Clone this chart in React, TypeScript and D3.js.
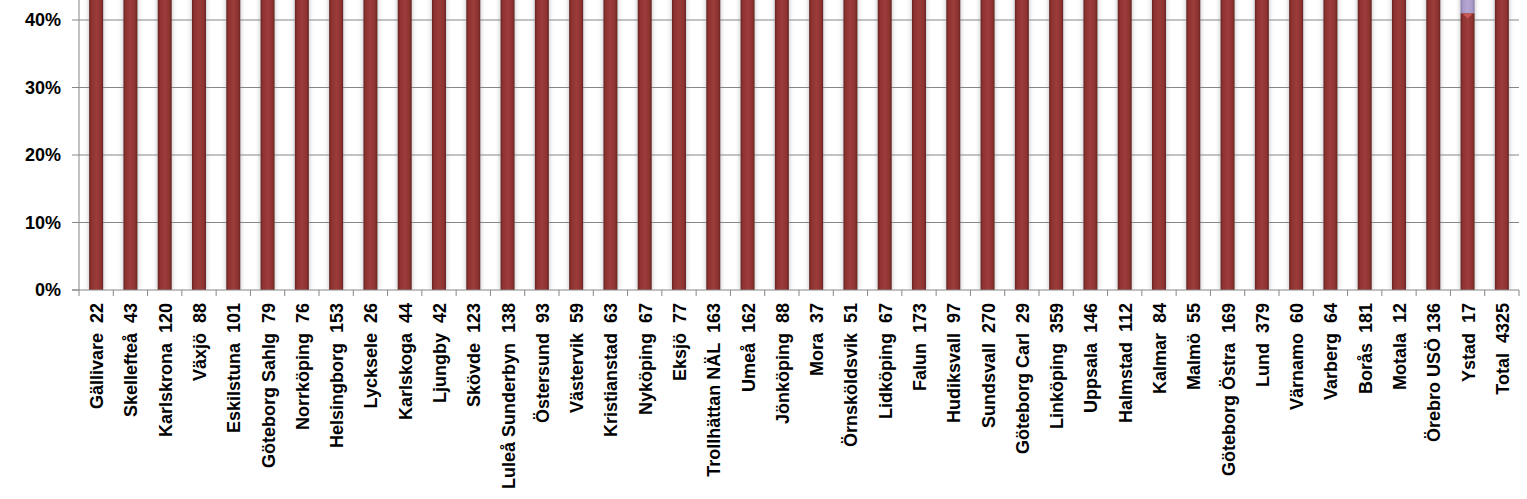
import React from "react";
import * as d3 from "d3";

const categories = [
  "Gällivare  22", "Skellefteå  43", "Karlskrona  120", "Växjö  88", "Eskilstuna  101",
  "Göteborg Sahlg  79", "Norrköping  76", "Helsingborg  153", "Lycksele  26", "Karlskoga  44",
  "Ljungby  42", "Skövde  123", "Luleå Sunderbyn  138", "Östersund  93", "Västervik  59",
  "Kristianstad  63", "Nyköping  67", "Eksjö  77", "Trollhättan NÄL  163", "Umeå  162",
  "Jönköping  88", "Mora  37", "Örnsköldsvik  51", "Lidköping  67", "Falun  173",
  "Hudiksvall  97", "Sundsvall  270", "Göteborg Carl  29", "Linköping  359", "Uppsala  146",
  "Halmstad  112", "Kalmar  84", "Malmö  55", "Göteborg Östra  169", "Lund  379",
  "Värnamo  60", "Varberg  64", "Borås  181", "Motala  12", "Örebro USÖ 136",
  "Ystad  17", "Total  4325",
];

// main (dark red) series – only the part below ~41% is visible in the reference
const mainValues = [
  0.95, 0.93, 0.92, 0.91, 0.9, 0.9, 0.89, 0.88, 0.88, 0.87,
  0.86, 0.86, 0.85, 0.85, 0.84, 0.84, 0.83, 0.83, 0.82, 0.82,
  0.81, 0.81, 0.8, 0.8, 0.79, 0.78, 0.78, 0.77, 0.76, 0.75,
  0.74, 0.73, 0.72, 0.71, 0.7, 0.68, 0.66, 0.64, 0.6, 0.56,
  0.41, 0.8,
];
// stacked second (lavender) series
const secondValues = [
  0.03, 0.04, 0.05, 0.05, 0.06, 0.06, 0.07, 0.07, 0.08, 0.08,
  0.08, 0.09, 0.09, 0.1, 0.1, 0.1, 0.11, 0.11, 0.12, 0.12,
  0.12, 0.13, 0.13, 0.14, 0.14, 0.15, 0.15, 0.16, 0.16, 0.17,
  0.17, 0.18, 0.18, 0.19, 0.19, 0.2, 0.21, 0.22, 0.25, 0.27,
  0.35, 0.14,
];
const yTicks = [0, 0.1, 0.2, 0.3, 0.4];

const W = 1527;
const H = 499;
const left = 79;
const right = 1519;
const bottom = 290;
const topTick = 20;

export default function App() {
  const x = d3
    .scaleBand<string>()
    .domain(categories)
    .range([left, right])
    .paddingInner(0.59)
    .paddingOuter(0.295);
  const y = d3.scaleLinear().domain([0, 0.4]).range([bottom, topTick]);
  const step = x.step();
  const bw = x.bandwidth();
  const fmt = d3.format(".0%");
  const font = "'Liberation Sans', Arial, sans-serif";

  return (
    <svg
      width={W}
      height={H}
      style={{ position: "absolute", left: 0, top: 0, background: "#fff" }}
    >
      <defs>
        <linearGradient id="redG" x1="0" x2="1" y1="0" y2="0">
          <stop offset="0" stopColor="#6a2422" />
          <stop offset="0.18" stopColor="#8e3331" />
          <stop offset="0.5" stopColor="#9c3c3a" />
          <stop offset="0.82" stopColor="#8e3331" />
          <stop offset="1" stopColor="#6a2422" />
        </linearGradient>
        <linearGradient id="lavG" x1="0" x2="1" y1="0" y2="0">
          <stop offset="0" stopColor="#8f7fae" />
          <stop offset="0.2" stopColor="#ab9bc9" />
          <stop offset="0.5" stopColor="#b6a7d2" />
          <stop offset="0.8" stopColor="#ab9bc9" />
          <stop offset="1" stopColor="#8f7fae" />
        </linearGradient>
        <filter id="shadow" x="-50%" y="-5%" width="200%" height="110%">
          <feDropShadow dx="0" dy="0" stdDeviation="2.5" floodColor="#888" floodOpacity="0.6" />
        </filter>
        <clipPath id="plotClip">
          <rect x={0} y={0} width={W} height={bottom} />
        </clipPath>
      </defs>

      {/* gridlines */}
      {yTicks.slice(1).map((t) => (
        <line key={t} x1={left} x2={right} y1={y(t)} y2={y(t)} stroke="#868686" strokeWidth={1} />
      ))}

      {/* bars */}
      <g clipPath="url(#plotClip)">
        {categories.map((c, i) => {
          const x0 = x(c)!;
          const yMain = y(mainValues[i]);
          const yTop = y(mainValues[i] + secondValues[i]);
          return (
            <g key={c} filter="url(#shadow)">
              <rect x={x0} y={yTop} width={bw} height={yMain - yTop} fill="url(#lavG)" />
              <rect x={x0} y={yMain} width={bw} height={bottom - yMain} fill="url(#redG)" />
              <path
                d={`M${x0 + 2},${yMain + 0.5} L${x0 + bw - 2},${yMain + 0.5} L${x0 + bw / 2},${yMain + 5} Z`}
                fill="#d9605d"
                opacity={0.8}
              />
            </g>
          );
        })}
      </g>

      {/* y axis */}
      <line x1={left} x2={left} y1={0} y2={bottom} stroke="#868686" strokeWidth={1} />
      {yTicks.map((t) => (
        <g key={t}>
          <line x1={left - 7} x2={left} y1={y(t)} y2={y(t)} stroke="#868686" strokeWidth={1} />
          <text
            x={61}
            y={y(t)}
            textAnchor="end"
            dominantBaseline="central"
            fontFamily={font}
            fontWeight="bold"
            fontSize={18}
            fill="#000"
          >
            {fmt(t)}
          </text>
        </g>
      ))}

      {/* x axis */}
      <line x1={left - 7} x2={right} y1={bottom} y2={bottom} stroke="#868686" strokeWidth={1} />
      {categories.map((c, i) => (
        <line
          key={"t" + c}
          x1={left + i * step}
          x2={left + i * step}
          y1={bottom}
          y2={bottom + 6}
          stroke="#868686"
          strokeWidth={1}
        />
      ))}
      <line x1={right} x2={right} y1={bottom} y2={bottom + 6} stroke="#868686" strokeWidth={1} />

      {categories.map((c) => {
        const cx = x(c)! + bw / 2 + 1;
        const ty = 303;
        return (
          <text
            key={"l" + c}
            transform={`translate(${cx},${ty}) rotate(-90)`}
            textAnchor="end"
            dominantBaseline="central"
            fontFamily={font}
            fontWeight="bold"
            fontSize={18}
            fill="#000"
            style={{ whiteSpace: "pre" }}
          >
            {c}
          </text>
        );
      })}
    </svg>
  );
}
